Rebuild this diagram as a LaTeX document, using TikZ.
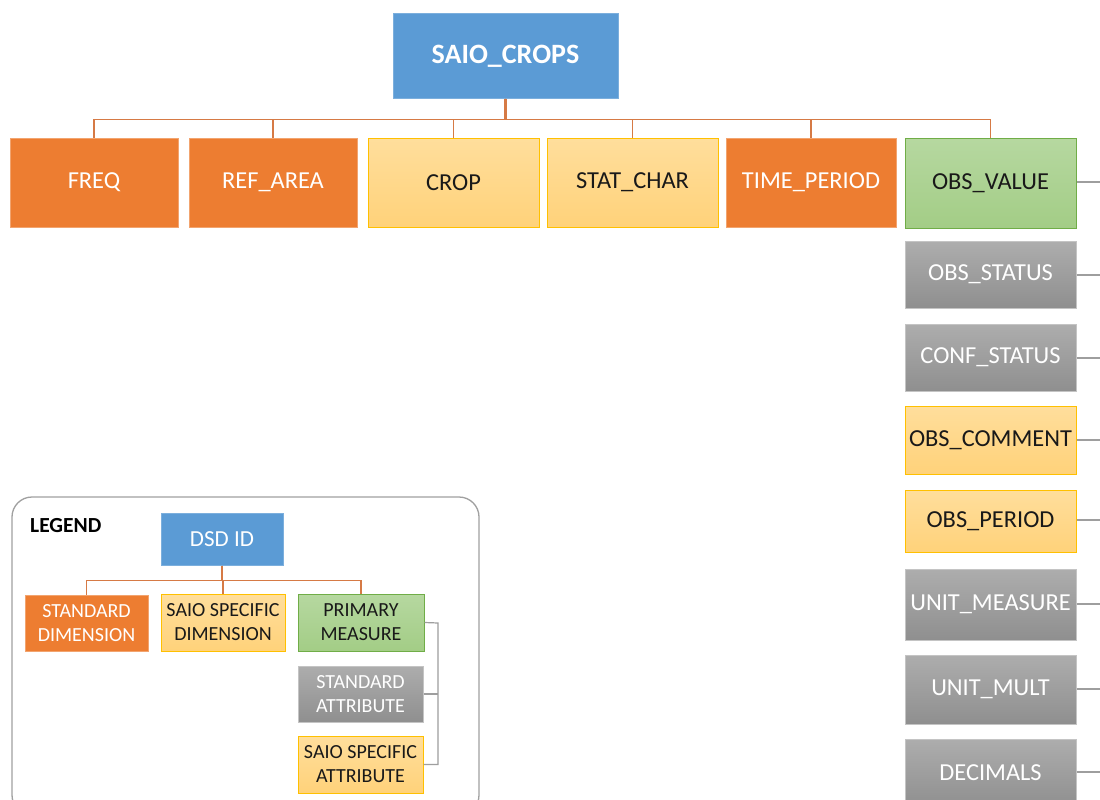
\documentclass[tikz,border=0pt]{standalone}
\usepackage{fontspec}
\setmainfont{Carlito}
\begin{document}
\begin{tikzpicture}[x=1pt,y=-1pt,
  box/.style={rectangle, inner sep=0pt, align=center, line width=1pt},
  bluebox/.style={box, fill=cblue, draw=cblue!80!white, text=white},
  orangebox/.style={box, fill=corange, draw=corange!70!white, text=white},
  yellowbox/.style={box, top color=cyellowT, bottom color=cyellowB, draw=cyellowD, text=black!90},
  greenbox/.style={box, top color=cgreenT, bottom color=cgreenB, draw=cgreenD, text=black!90},
  graybox/.style={box, top color=cgrayT, bottom color=cgrayB, draw=cgrayD, text=white},
  bigtxt/.style={font=\fontsize{24.4}{28}\selectfont},
  smalltxt/.style={font=\fontsize{20}{24}\selectfont},
  tree/.style={draw=clink, line width=1.2pt},
  side/.style={draw=cside, line width=1.4pt}]
\definecolor{cblue}{HTML}{5B9BD5}
\definecolor{corange}{HTML}{ED7D31}
\definecolor{cyellowT}{HTML}{FFDE9C}
\definecolor{cyellowB}{HTML}{FFD27A}
\definecolor{cyellowD}{HTML}{FFC000}
\definecolor{cgreenT}{HTML}{B6D8A0}
\definecolor{cgreenB}{HTML}{A3CD86}
\definecolor{cgreenD}{HTML}{70AD47}
\definecolor{cgrayT}{HTML}{ADADAD}
\definecolor{cgrayB}{HTML}{8F8F8F}
\definecolor{cgrayD}{HTML}{C4C4C4}
\definecolor{clink}{HTML}{D67A45}
\definecolor{cside}{HTML}{9E9E9E}
\definecolor{cframe}{HTML}{A0A0A0}

\clip (0,0) rectangle (1100,800);
\fill[white] (0,0) rectangle (1100,800);

% root of the structure
\node[bluebox, minimum width=225pt, minimum height=84pt, font=\fontsize{28}{32}\selectfont\bfseries] (root) at (505.5,56) {SAIO\_CROPS};

% dimensions row
\node[orangebox, bigtxt, minimum width=168pt, minimum height=89pt] (freq) at (94,182.5) {FREQ};
\node[orangebox, bigtxt, minimum width=168pt, minimum height=89pt] (refarea) at (273,182.5) {REF\_AREA};
\node[yellowbox, bigtxt, minimum width=171pt, minimum height=89pt] (crop) at (453.5,182.5) {CROP};
\node[yellowbox, bigtxt, minimum width=171pt, minimum height=89pt] (statchar) at (632.5,182.5) {STAT\_CHAR};
\node[orangebox, bigtxt, minimum width=170pt, minimum height=89pt] (timeperiod) at (811,182.5) {TIME\_PERIOD};
\node[greenbox, bigtxt, minimum width=171pt, minimum height=90pt] (obsvalue) at (990.5,183) {OBS\_VALUE};

% attributes column
\node[graybox, bigtxt, minimum width=171pt, minimum height=67pt] (obsstatus) at (990.5,274.5) {OBS\_STATUS};
\node[graybox, bigtxt, minimum width=171pt, minimum height=67pt] (confstatus) at (990.5,357.5) {CONF\_STATUS};
\node[yellowbox, bigtxt, minimum width=171pt, minimum height=68pt] (obscomment) at (990.5,440) {OBS\_COMMENT};
\node[yellowbox, bigtxt, minimum width=171pt, minimum height=62pt] (obsperiod) at (990.5,521) {OBS\_PERIOD};
\node[graybox, bigtxt, minimum width=171pt, minimum height=71pt] (unitmeasure) at (990.5,604.5) {UNIT\_MEASURE};
\node[graybox, bigtxt, minimum width=171pt, minimum height=69pt] (unitmult) at (990.5,689.5) {UNIT\_MULT};
\node[graybox, bigtxt, minimum width=171pt, minimum height=68pt] (decimals) at (990.5,773) {DECIMALS};

% tree connectors
\draw[tree, line width=2.2pt] (root.south) -- (505.5,119);
\foreach \c in {freq,refarea,crop,statchar,timeperiod,obsvalue}
  \draw[tree] (root.south) -- ++(0,21) -| (\c.north);

% links to the attribute bus
\foreach \c/\y in {obsvalue/182,obsstatus/275,confstatus/358,obscomment/440,obsperiod/520,unitmeasure/604,unitmult/689,decimals/772}
  \coordinate (e\c) at (1100,\y);
\foreach \c in {obsvalue,obsstatus,confstatus,obscomment,obsperiod,unitmeasure,unitmult,decimals}
  \draw[side] (\c.east |- e\c) -- (e\c);

% legend
\draw[cframe, line width=1.3pt, rounded corners=20pt] (12,497) rectangle (479,815);
\node[anchor=west, font=\fontsize{21.5}{24}\selectfont\bfseries, text=black, inner sep=0pt] (legtitle) at (30,526) {LEGEND};
\node[bluebox, font=\fontsize{23}{26}\selectfont, minimum width=122pt, minimum height=52pt] (dsd) at (222,539) {DSD ID};
\node[orangebox, smalltxt, minimum width=123pt, minimum height=56pt] (lstd) at (86.5,623) {STANDARD\\DIMENSION};
\node[yellowbox, smalltxt, minimum width=124pt, minimum height=57pt] (lsaio) at (223,622.5) {SAIO SPECIFIC\\DIMENSION};
\node[greenbox, smalltxt, minimum width=126pt, minimum height=57pt] (lprim) at (361,622.5) {PRIMARY\\MEASURE};
\node[graybox, smalltxt, minimum width=125pt, minimum height=56pt] (lsattr) at (360.5,694) {STANDARD\\ATTRIBUTE};
\node[yellowbox, smalltxt, minimum width=125pt, minimum height=57pt] (lspattr) at (360.5,764.5) {SAIO SPECIFIC\\ATTRIBUTE};

\draw[tree, line width=1.6pt] (dsd.south) -- ++(0,15);
\foreach \c in {lstd,lsaio,lprim}
  \draw[tree] (dsd.south) -- ++(0,15) -| (\c.north);
\coordinate (brk) at (438,623);
\draw[side, line width=1.2pt] (lprim.east) -- (brk) |- (lspattr.east);
\draw[side, line width=1.2pt] (lsattr.east) -- (lsattr.east -| brk);
\end{tikzpicture}
\end{document}
